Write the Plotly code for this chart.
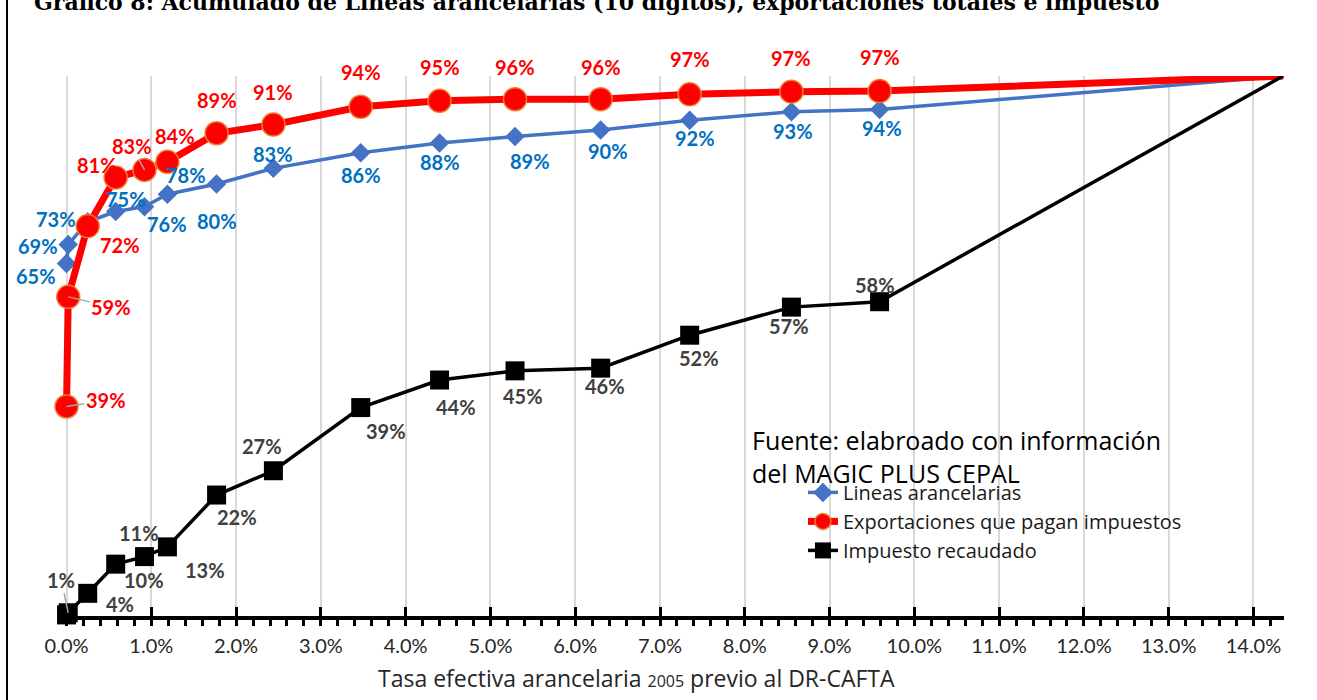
import plotly.graph_objects as go

# Tasa efectiva arancelaria (fracción) de cada tramo acumulado
tasa = [0.0, 0.0002, 0.0025, 0.0058, 0.0092, 0.0119, 0.0177, 0.0244, 0.0347,
        0.0440, 0.0529, 0.0630, 0.0735, 0.0855, 0.0959, 0.1435]

# Participaciones acumuladas
lineas = [0.653, 0.688, 0.730, 0.749, 0.758, 0.781, 0.800, 0.829, 0.858,
          0.876, 0.888, 0.900, 0.918, 0.934, 0.938, 1.0]
exportaciones = [0.388, 0.591, 0.722, 0.812, 0.826, 0.841, 0.894, 0.910, 0.943,
                 0.954, 0.957, 0.957, 0.966, 0.971, 0.972, 1.0]
impuesto = [0.002, 0.006, 0.042, 0.096, 0.110, 0.128, 0.224, 0.269, 0.386,
            0.437, 0.454, 0.459, 0.520, 0.572, 0.582, 1.0]

series_names = ["Lineas arancelarias", "Exportaciones que pagan impuestos", "Impuesto recaudado"]

# Desplazamiento (px) de cada etiqueta respecto a su marcador; None = sin etiqueta
off_lineas = [(-31, 13), (-30, 2), (-32, -3), (10, -13), (22, 17), (19, -19), (0, 37),
              (0, -14), (0, 22), (0, 19), (15, 25), (7, 21), (5, 18), (2, 19), (2, 19), None]
off_export = [(39, -6), (43, 10), (32, 19), (-19, -13), (-13, -24), (8, -26), (0, -33),
              (0, -33), (0, -35), (0, -34), (0, -32), (0, -32), (0, -35), (0, -34), (0, -34), None]
off_impuesto = [None, (-7, -33), (32, 11), (28, 16), (-6, -24), (38, 23), (20, 22),
                (-11, -25), (25, 23), (16, 27), (8, 25), (4, 18), (9, 23), (-2, 19), (-5, -17), None]
# Etiquetas unidas al marcador con línea guía
guia_export = {0, 1, 4}
guia_impuesto = {1}

FONT = "Lato"
FONT_TXT = "Open Sans"
AZUL, AZUL_TXT = "#4472C4", "#0070C0"
ROJO, NARANJA = "#FF0000", "#ED7D31"
GRIS_TXT = "#404040"

# el punto de cierre (100 %) se dibuja sin marcador
con_marcador = list(range(len(tasa) - 1))
ocultar_ultimo = dict(selectedpoints=con_marcador,
                      selected=dict(marker=dict(opacity=1)),
                      unselected=dict(marker=dict(opacity=0)))

fig = go.Figure()
fig.add_trace(go.Scatter(
    x=tasa, y=lineas, name=series_names[0], mode="lines+markers",
    line=dict(color=AZUL, width=3.5),
    marker=dict(symbol="diamond", size=15, color=AZUL),
    cliponaxis=False, **ocultar_ultimo))
fig.add_trace(go.Scatter(
    x=tasa, y=exportaciones, name=series_names[1], mode="lines+markers",
    line=dict(color=ROJO, width=7),
    marker=dict(symbol="circle", size=23, color=ROJO, line=dict(color=NARANJA, width=1.5)),
    cliponaxis=False, **ocultar_ultimo))
fig.add_trace(go.Scatter(
    x=tasa, y=impuesto, name=series_names[2], mode="lines+markers",
    line=dict(color="black", width=3.5),
    marker=dict(symbol="square", size=19, color="black"),
    cliponaxis=False, **ocultar_ultimo))

annotations = []


def etiquetas(valores, desplaz, color, guias):
    for i, (xv, yv) in enumerate(zip(tasa, valores)):
        d = desplaz[i]
        if d is None:
            continue
        txt = f"{yv * 100:.0f}%"
        base = dict(x=xv, y=yv, xref="x", yref="y", text=txt,
                    font=dict(family=FONT, size=20, color=color, weight="bold"))
        if i in guias:
            base.update(showarrow=True, ax=d[0], ay=d[1], arrowhead=0,
                        arrowcolor="#A6A6A6", arrowwidth=1.5, standoff=0)
        else:
            base.update(showarrow=False, xshift=d[0], yshift=-d[1])
        annotations.append(base)


etiquetas(lineas, off_lineas, AZUL_TXT, set())
etiquetas(exportaciones, off_export, ROJO, guia_export)
etiquetas(impuesto, off_impuesto, GRIS_TXT, guia_impuesto)

# Nota de fuente
annotations.append(dict(
    x=0.5638, y=0.296, xref="paper", yref="paper", xanchor="left", yanchor="middle",
    text="Fuente: elabroado con información<br>del MAGIC PLUS CEPAL", align="left",
    showarrow=False, font=dict(family=FONT_TXT, size=25, color="black")))

# Título del eje horizontal
annotations.append(dict(
    x=0.4706, y=-0.115, xref="paper", yref="paper", xanchor="center", yanchor="middle",
    text="Tasa efectiva arancelaria <span style='font-size:16px'>2005</span> previo al DR-CAFTA",
    showarrow=False, font=dict(family=FONT_TXT, size=23, color="#262626")))

# Título del gráfico
annotations.append(dict(
    x=0.438, y=1.137, xref="paper", yref="paper", xanchor="center", yanchor="middle",
    text="<b>Gráfico 8: Acumulado de Líneas arancelarias (10 dígitos), exportaciones totales e impuesto</b>",
    showarrow=False, font=dict(family="DejaVu Serif", size=22, color="black")))

fig.update_layout(
    width=1317, height=700,
    margin=dict(l=60, r=33, t=76, b=84),
    paper_bgcolor="white", plot_bgcolor="white",
    showlegend=True,
    legend=dict(x=0.607, y=0.265, xanchor="left", yanchor="top",
                bgcolor="rgba(0,0,0,0)", font=dict(family=FONT_TXT, size=20, color="#1a1a1a"),
                tracegroupgap=0, itemsizing="trace"),
    annotations=annotations,
    shapes=[
        # fondo blanco bajo la nota y la leyenda (tapa la cuadrícula)
        dict(type="rect", xref="paper", yref="paper", layer="between",
             x0=0.5637, x1=0.968, y0=0.10, y1=0.352,
             fillcolor="white", line=dict(width=0)),
        # marco izquierdo
        dict(type="line", xref="paper", yref="paper", x0=-0.0433, x1=-0.0433,
             y0=-0.16, y1=1.15, line=dict(color="black", width=2)),
    ],
)

fig.update_xaxes(
    range=[-0.00077, 0.1436], dtick=0.01, tick0=0, tickformat=".1%",
    showgrid=True, gridcolor="#D9D9D9", gridwidth=2, zeroline=False,
    showline=True, linecolor="black", linewidth=4,
    ticks="inside", ticklen=9, tickwidth=3, tickcolor="black",
    minor=dict(dtick=0.002, ticks="outside", ticklen=6, tickwidth=2.5,
               tickcolor="black", showgrid=False),
    tickfont=dict(family=FONT, size=20, color="#262626"),
    ticklabelstandoff=9)
fig.update_yaxes(range=[0, 1], visible=False, showgrid=False)

fig.write_html("out.html")
